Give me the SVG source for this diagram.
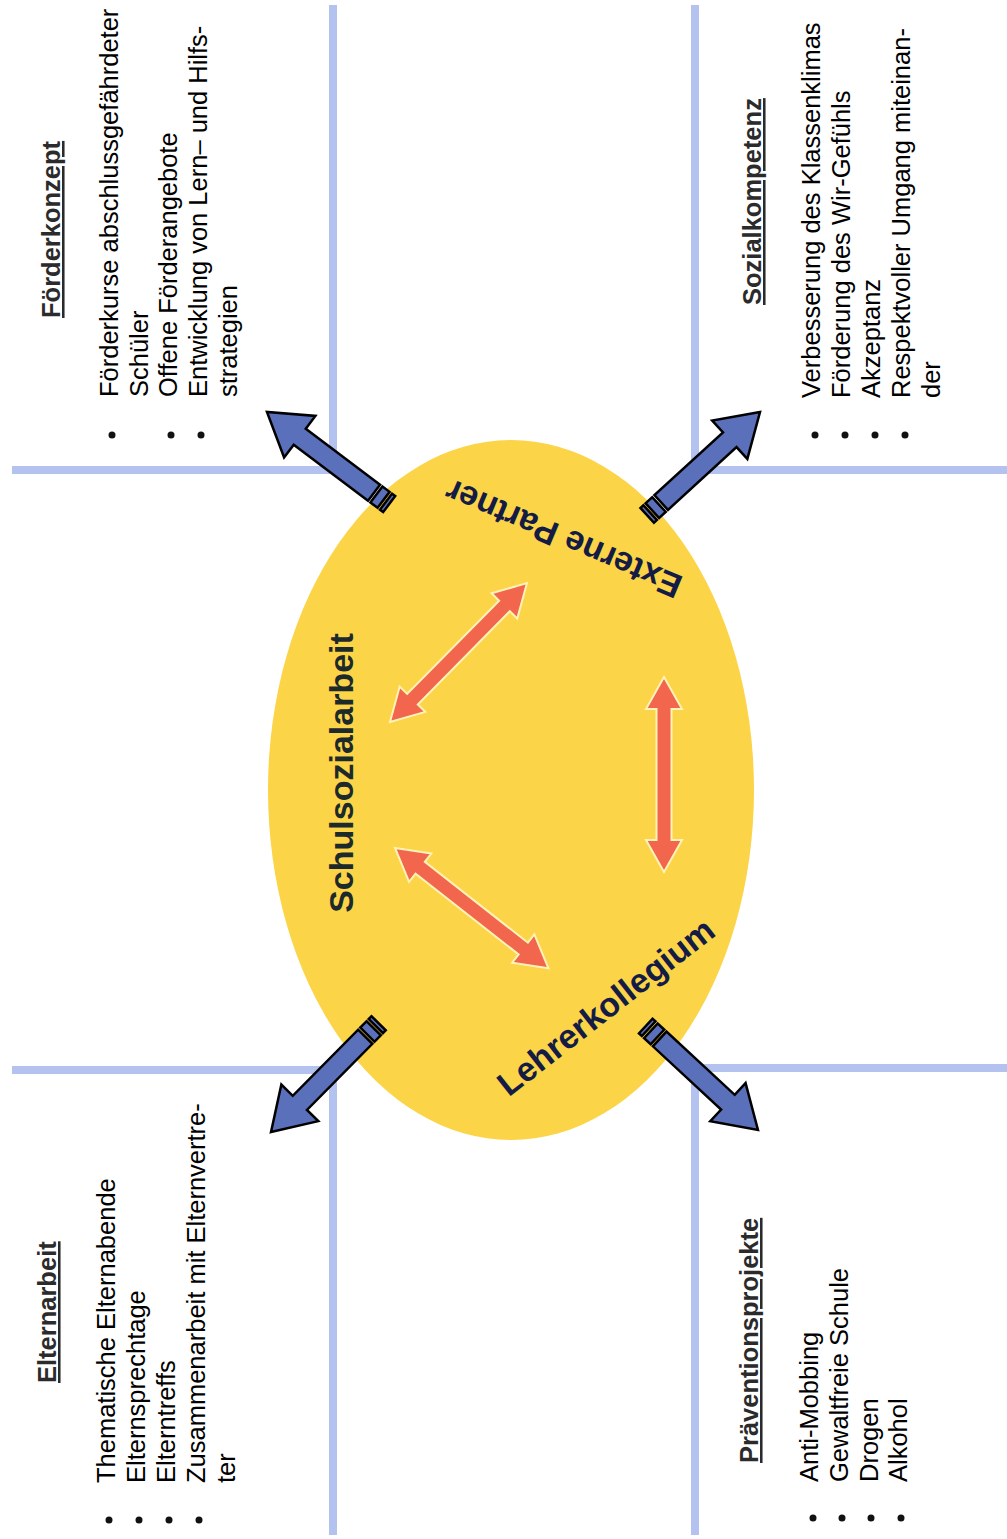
<svg xmlns="http://www.w3.org/2000/svg" width="1007" height="1539" viewBox="0 0 1007 1539">
<style>
  text { font-family: "Liberation Sans", Arial, sans-serif; }
  .body { font-size: 25.5px; fill: #000; }
  .head { font-size: 25.5px; font-weight: bold; fill: #2b2b2b; text-decoration: underline; }
  .center { font-size: 34px; font-weight: bold; }
  .frame { fill: none; stroke: #b4c2f0; stroke-width: 8; }
  .blue { fill: #5b70ba; stroke: #000; stroke-width: 2.5; stroke-linejoin: miter; }
  .orange { fill: #f2664e; stroke: #fff3b8; stroke-width: 2; stroke-linejoin: miter; }
  .dot { fill: #111; }
</style>
<defs>
  <g id="blueArrow">
    <path class="blue" d="M0,0 L-41,-26 L-41,-10 L-134,-10 L-134,10 L-41,10 L-41,26 Z"/>
    <rect class="blue" x="-146" y="-10" width="9" height="20"/>
    <rect class="blue" x="-153" y="-10" width="4" height="20"/>
  </g>
  <path id="dblArrow" class="orange" d="M0,0 L32,-18 L32,-7.5 L163,-7.5 L163,-18 L195,0 L163,18 L163,7.5 L32,7.5 L32,18 Z"/>
</defs>
<rect width="1007" height="1539" fill="#fff"/>

<g id="frames">
  <path class="frame" d="M333,5 V470 H12"/>
  <path class="frame" d="M695,5 V470 H1007"/>
  <path class="frame" d="M12,1070 H333 V1535"/>
  <path class="frame" d="M1007,1068 H695 V1535"/>
</g>

<g id="node-schulsozialarbeit">
  <ellipse cx="511" cy="790" rx="243" ry="350" fill="#fcd447"/>
  <text class="center" fill="#1d2a2c" text-anchor="middle" transform="translate(353,773) rotate(-90)">Schulsozialarbeit</text>
  <text class="center" fill="#141c46" text-anchor="middle" transform="translate(568,528) rotate(203)">Externe Partner</text>
  <text class="center" fill="#141c46" text-anchor="middle" transform="translate(613,1016) rotate(-38)">Lehrerkollegium</text>
</g>

<g id="connectors">
  <use href="#dblArrow" transform="translate(390,722) rotate(-45.4)"/>
  <use href="#dblArrow" transform="translate(664,677) rotate(90)"/>
  <use href="#dblArrow" transform="translate(395,848) rotate(38.1)"/>
  <use href="#blueArrow" transform="translate(267,412) rotate(-143)"/>
  <use href="#blueArrow" transform="translate(760,412) rotate(-42.5)"/>
  <use href="#blueArrow" transform="translate(271,1132) rotate(134.7)"/>
  <use href="#blueArrow" transform="translate(758,1130) rotate(42.8)"/>
</g>

<g id="node-foerderkonzept">
  <text class="head" transform="translate(60,318) rotate(-90)">Förderkonzept</text>
  <text class="body" transform="translate(118,397) rotate(-90)">Förderkurse abschlussgefährdeter</text>
  <text class="body" transform="translate(147.5,397) rotate(-90)">Schüler</text>
  <text class="body" transform="translate(177,397) rotate(-90)">Offene Förderangebote</text>
  <text class="body" transform="translate(207,397) rotate(-90)">Entwicklung von Lern– und Hilfs-</text>
  <text class="body" transform="translate(236.5,397) rotate(-90)">strategien</text>
  <circle class="dot" cx="112" cy="435" r="3.5"/>
  <circle class="dot" cx="171" cy="435" r="3.5"/>
  <circle class="dot" cx="201" cy="435" r="3.5"/>
</g>

<g id="node-sozialkompetenz">
  <text class="head" transform="translate(761,305) rotate(-90)">Sozialkompetenz</text>
  <text class="body" transform="translate(820,398) rotate(-90)">Verbesserung des Klassenklimas</text>
  <text class="body" transform="translate(850,398) rotate(-90)">Förderung des Wir-Gefühls</text>
  <text class="body" transform="translate(880,398) rotate(-90)">Akzeptanz</text>
  <text class="body" transform="translate(910,398) rotate(-90)">Respektvoller Umgang miteinan-</text>
  <text class="body" transform="translate(940,398) rotate(-90)">der</text>
  <circle class="dot" cx="815" cy="435" r="3.5"/>
  <circle class="dot" cx="845" cy="435" r="3.5"/>
  <circle class="dot" cx="875" cy="435" r="3.5"/>
  <circle class="dot" cx="905" cy="435" r="3.5"/>
</g>

<g id="node-elternarbeit">
  <text class="head" transform="translate(56,1383) rotate(-90)">Elternarbeit</text>
  <text class="body" transform="translate(115,1483) rotate(-90)">Thematische Elternabende</text>
  <text class="body" transform="translate(145,1483) rotate(-90)">Elternsprechtage</text>
  <text class="body" transform="translate(175,1483) rotate(-90)">Elterntreffs</text>
  <text class="body" transform="translate(205,1483) rotate(-90)">Zusammenarbeit mit Elternvertre-</text>
  <text class="body" transform="translate(235,1483) rotate(-90)">ter</text>
  <circle class="dot" cx="109" cy="1520" r="3.5"/>
  <circle class="dot" cx="139" cy="1520" r="3.5"/>
  <circle class="dot" cx="169" cy="1520" r="3.5"/>
  <circle class="dot" cx="199" cy="1520" r="3.5"/>
</g>

<g id="node-praeventionsprojekte">
  <text class="head" transform="translate(758,1463) rotate(-90)">Präventionsprojekte</text>
  <text class="body" transform="translate(818,1482) rotate(-90)">Anti-Mobbing</text>
  <text class="body" transform="translate(848,1482) rotate(-90)">Gewaltfreie Schule</text>
  <text class="body" transform="translate(878,1482) rotate(-90)">Drogen</text>
  <text class="body" transform="translate(907,1482) rotate(-90)">Alkohol</text>
  <circle class="dot" cx="813" cy="1518" r="3.5"/>
  <circle class="dot" cx="842" cy="1518" r="3.5"/>
  <circle class="dot" cx="871" cy="1518" r="3.5"/>
  <circle class="dot" cx="901" cy="1518" r="3.5"/>
</g>
</svg>
